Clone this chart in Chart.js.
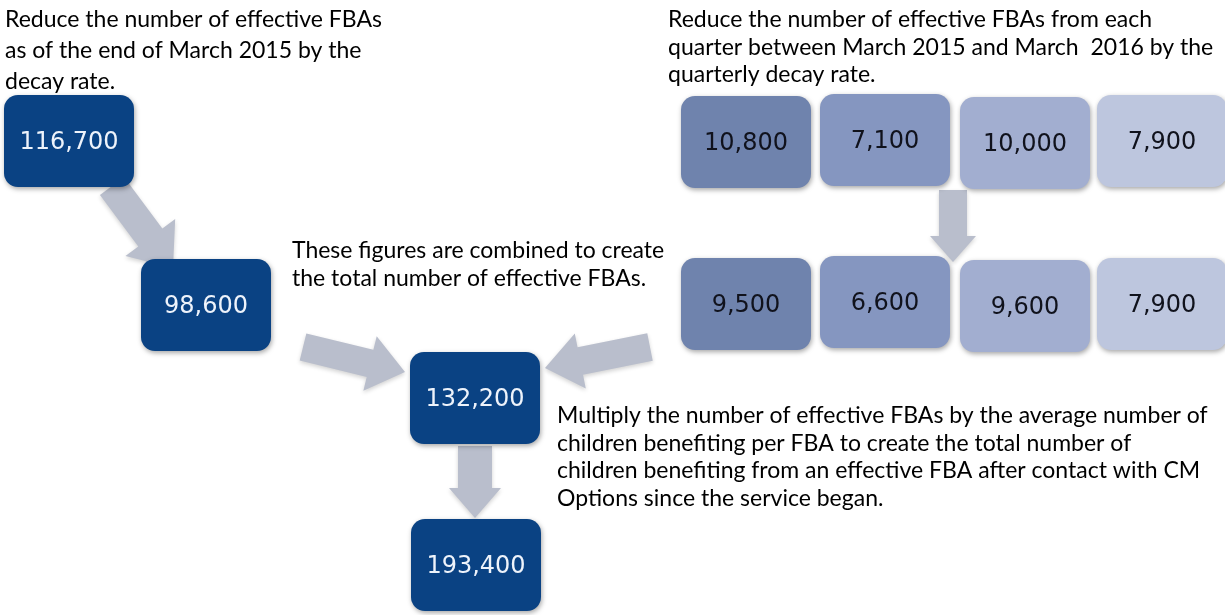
<!DOCTYPE html>
<html>
<head>
<meta charset="utf-8">
<script src="https://cdn.jsdelivr.net/npm/chart.js@4/dist/chart.umd.min.js"></script>
<style>
  html, body { margin: 0; padding: 0; background: #fff; }
  #wrap { width: 1225px; height: 615px; position: relative; }
</style>
</head>
<body>
<div id="wrap"><canvas id="flow"></canvas></div>
<script>
// --- data ---
const stockSteps = [116700, 98600];            // FBAs at end of March 2015, before / after decay
const quarterLabels = ['Q1', 'Q2', 'Q3', 'Q4']; // quarters between March 2015 and March 2016
const quarterFBAs = [10800, 7100, 10000, 7900];
const quarterDecayed = [9500, 6600, 9600, 7900];
const combinedFBAs = [132200];
const childrenBenefiting = [193400];

const captions = [
    ['Reduce the number of effective FBAs', 'as of the end of March 2015 by the', 'decay rate.'],
    ['Reduce the number of effective FBAs from each', 'quarter between March 2015 and March  2016 by the', 'quarterly decay rate.'],
    ['These figures are combined to create', 'the total number of effective FBAs.'],
    ['Multiply the number of effective FBAs by the average number of',
     'children benefiting per FBA to create the total number of',
     'children benefiting from an effective FBA after contact with CM',
     'Options since the service began.']
];

// --- layout (page units, same as the hidden scales) ---
const stockPos = [[69, 141], [206, 305]];
const quarterTopPos = [[746, 142], [885, 140], [1025, 143], [1162, 141]];
const quarterBotPos = [[746, 304], [885, 302], [1025, 306], [1162, 304]];
const combinedPos = [[475, 398]];
const childrenPos = [[476, 565]];
const captionPos = [[5, 27, 31], [668, 27, 27.5], [292, 258, 28], [557, 423, 27.5]];
// tail x, tail y, tip x, tip y, shaft width, head width, head length
const arrows = [
    [112, 186, 173, 268, 30, 62, 38],
    [303, 347, 405, 372, 28, 56, 36],
    [650, 347, 545, 368, 28, 56, 36],
    [475, 446, 475, 518, 34, 52, 30],
    [953, 190, 953, 262, 28, 46, 26]
];

const darkBlue = '#0a4283';
const quarterColors = ['#6f83ad', '#8596c0', '#a2aed0', '#bdc6de'];

const fmt = v => v.toLocaleString('en-US');
const pts = (pos, vals) => pos.map((p, i) => ({ x: p[0], y: p[1], v: vals[i] }));

function roundRect(ctx, x, y, w, h, r) {
    ctx.beginPath();
    ctx.moveTo(x + r, y);
    ctx.arcTo(x + w, y, x + w, y + h, r);
    ctx.arcTo(x + w, y + h, x, y + h, r);
    ctx.arcTo(x, y + h, x, y, r);
    ctx.arcTo(x, y, x + w, y, r);
    ctx.closePath();
}

const flowPlugin = {
    id: 'flow',
    beforeDatasetsDraw(chart) {
        const { ctx, scales: { x, y } } = chart;
        ctx.save();
        ctx.fillStyle = '#b9becc';
        ctx.shadowColor = 'rgba(0,0,0,0.18)';
        ctx.shadowBlur = 4;
        ctx.shadowOffsetY = 2;
        arrows.forEach(a => {
            const x0 = x.getPixelForValue(a[0]), y0 = y.getPixelForValue(a[1]);
            const x1 = x.getPixelForValue(a[2]), y1 = y.getPixelForValue(a[3]);
            const len = Math.hypot(x1 - x0, y1 - y0);
            ctx.save();
            ctx.translate(x0, y0);
            ctx.rotate(Math.atan2(y1 - y0, x1 - x0));
            const s = a[4] / 2, h = a[5] / 2, hl = a[6];
            ctx.beginPath();
            ctx.moveTo(0, -s);
            ctx.lineTo(len - hl, -s);
            ctx.lineTo(len - hl, -h);
            ctx.lineTo(len, 0);
            ctx.lineTo(len - hl, h);
            ctx.lineTo(len - hl, s);
            ctx.lineTo(0, s);
            ctx.closePath();
            ctx.fill();
            ctx.restore();
        });
        ctx.restore();
    },
    afterDatasetsDraw(chart) {
        const { ctx, scales: { x, y } } = chart;
        const bw = 130, bh = 92;
        chart.data.datasets.forEach((ds, di) => {
            const meta = chart.getDatasetMeta(di);
            meta.data.forEach((el, i) => {
                const fill = Array.isArray(ds.boxColor) ? ds.boxColor[i] : ds.boxColor;
                ctx.save();
                ctx.shadowColor = 'rgba(0,0,0,0.35)';
                ctx.shadowBlur = 5;
                ctx.shadowOffsetX = 1;
                ctx.shadowOffsetY = 2;
                ctx.fillStyle = fill;
                roundRect(ctx, el.x - bw / 2, el.y - bh / 2, bw, bh, 14);
                ctx.fill();
                ctx.restore();
                ctx.save();
                ctx.fillStyle = ds.textColor;
                ctx.font = '24px "DejaVu Sans"';
                ctx.textAlign = 'center';
                ctx.textBaseline = 'middle';
                ctx.fillText(fmt(ds.data[i].v), el.x, el.y + 2);
                ctx.restore();
            });
        });
        ctx.save();
        ctx.fillStyle = '#000';
        ctx.font = '23px Lato';
        ctx.textBaseline = 'alphabetic';
        captions.forEach((lines, ci) => {
            const [cx, cy, lh] = captionPos[ci];
            lines.forEach((t, li) => {
                ctx.fillText(t, x.getPixelForValue(cx), y.getPixelForValue(cy + li * lh));
            });
        });
        ctx.restore();
    }
};

new Chart(document.getElementById('flow'), {
    type: 'scatter',
    data: {
        datasets: [
            { label: 'FBAs March 2015', data: pts(stockPos, stockSteps), boxColor: darkBlue, textColor: '#eef3fb' },
            { label: 'Quarterly FBAs', data: pts(quarterTopPos, quarterFBAs), boxColor: quarterColors, textColor: '#10121c' },
            { label: 'Quarterly FBAs after decay', data: pts(quarterBotPos, quarterDecayed), boxColor: quarterColors, textColor: '#10121c' },
            { label: 'Total effective FBAs', data: pts(combinedPos, combinedFBAs), boxColor: darkBlue, textColor: '#eef3fb' },
            { label: 'Children benefiting', data: pts(childrenPos, childrenBenefiting), boxColor: darkBlue, textColor: '#eef3fb' }
        ]
    },
    options: {
        responsive: true,
        maintainAspectRatio: false,
        animation: false,
        layout: { padding: 0 },
        elements: { point: { radius: 0, hoverRadius: 0 } },
        scales: {
            x: { type: 'linear', min: 0, max: 1225, display: false },
            y: { type: 'linear', min: 0, max: 615, reverse: true, display: false }
        },
        plugins: {
            legend: { display: false },
            tooltip: { enabled: false }
        }
    },
    plugins: [flowPlugin]
});
</script>
</body>
</html>
